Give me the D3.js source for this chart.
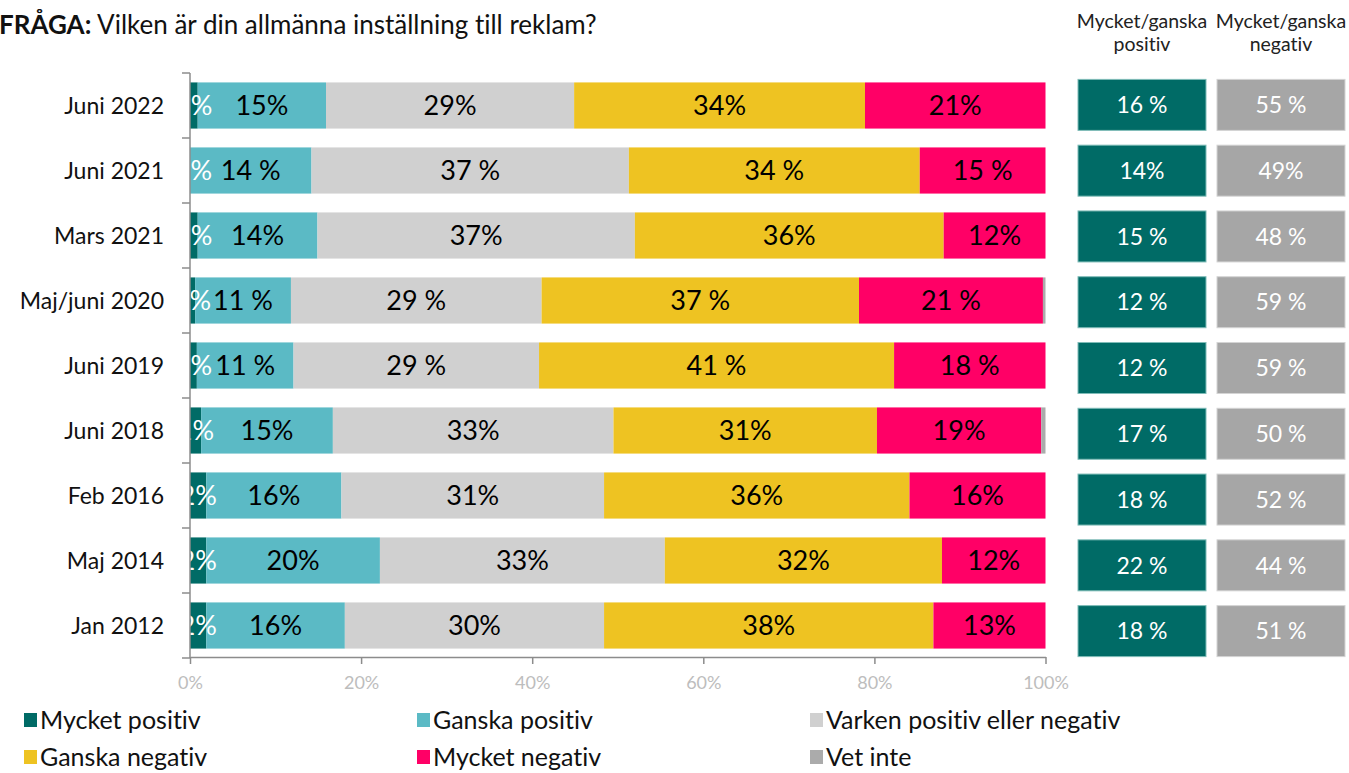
<!DOCTYPE html>
<html>
<head>
<meta charset="utf-8">
<script src="https://cdn.jsdelivr.net/npm/d3@7"></script>
<style>
    body { margin: 0; background: #fff; }
    svg { display: block; font-family: Lato, 'Open Sans', sans-serif; font-variant-ligatures: none; }
</style>
</head>
<body>
<svg id="chart" width="1349" height="773"></svg>
<script>
/**
 * Data.
 */
const periods = ['Juni 2022', 'Juni 2021', 'Mars 2021', 'Maj/juni 2020', 'Juni 2019',
    'Juni 2018', 'Feb 2016', 'Maj 2014', 'Jan 2012'];
const seriesNames = ['Mycket positiv', 'Ganska positiv', 'Varken positiv eller negativ',
    'Ganska negativ', 'Mycket negativ', 'Vet inte'];
const seriesColors = ['#006b66', '#5bbac5', '#d0d0d0', '#eec322', '#ff0066', '#ababab'];

// Shares (%) per period, one array per answer
const mycketPositiv = [0.9, 0, 0.9, 0.6, 0.8, 1.3, 1.9, 1.9, 1.9];
const ganskaPositiv = [15.0, 14.2, 14.0, 11.2, 11.3, 15.4, 15.8, 20.3, 16.2];
const varken = [29.0, 37.1, 37.1, 29.3, 28.7, 32.8, 30.7, 33.3, 30.3];
const ganskaNegativ = [34.0, 34.0, 36.1, 37.1, 41.5, 30.8, 35.7, 32.4, 38.5];
const mycketNegativ = [21.1, 14.7, 11.9, 21.5, 17.7, 19.2, 15.9, 12.1, 13.1];
const vetInte = [0, 0, 0, 0.3, 0, 0.5, 0, 0, 0];

// Labels as printed in the bars (no label for "Vet inte")
const mycketPositivLabels = ['1%', '0 %', '1%', '1%', '1%', '1%', '2%', '2%', '2%'];
const ganskaPositivLabels = ['15%', '14 %', '14%', '11 %', '11 %', '15%', '16%', '20%', '16%'];
const varkenLabels = ['29%', '37 %', '37%', '29 %', '29 %', '33%', '31%', '33%', '30%'];
const ganskaNegativLabels = ['34%', '34 %', '36%', '37 %', '41 %', '31%', '36%', '32%', '38%'];
const mycketNegativLabels = ['21%', '15 %', '12%', '21 %', '18 %', '19%', '16%', '12%', '13%'];

// Summary boxes
const summaryPositive = ['16 %', '14%', '15 %', '12 %', '12 %', '17 %', '18 %', '22 %', '18 %'];
const summaryNegative = ['55 %', '49%', '48 %', '59 %', '59 %', '50 %', '52 %', '44 %', '51 %'];

const xTicks = [0, 20, 40, 60, 80, 100];

/**
 * Visual configs.
 */
const plot = { left: 190, right: 1045.5, top: 73, bottom: 658 },
    boxCols = [{ x: 1078, fill: '#006b66', stroke: '#7fbcb8', label: 'positiv' },
        { x: 1217, fill: '#a6a6a6', stroke: '#d4d4d4', label: 'negativ' }],
    boxWidth = 128,
    boxHeight = 51,
    axisColor = '#8c8c8c';

const svg = d3.select('#chart');

const values = [mycketPositiv, ganskaPositiv, varken, ganskaNegativ, mycketNegativ, vetInte];
const labels = [mycketPositivLabels, ganskaPositivLabels, varkenLabels, ganskaNegativLabels, mycketNegativLabels, null];

const rows = periods.map((p, i) => {
    let acc = 0;
    const segs = values.map((v, k) => {
        const s = { period: p, key: k, x0: acc, x1: acc + v[i], label: labels[k] ? labels[k][i] : null };
        acc += v[i];
        return s;
    });
    return { period: p, segs: segs };
});

/**
 * D3.
 */
const xScale = d3.scaleLinear().domain([0, 100]).range([plot.left, plot.right]);
const yScale = d3.scaleBand().domain(periods).range([plot.top, plot.bottom])
    .paddingInner(0.29).paddingOuter(0.145);
const boxScale = d3.scaleBand().domain(periods).range([72, 664]);

// Title
const title = svg.append('text').attr('x', -1).attr('y', 34)
    .attr('font-size', 26).attr('fill', '#111');
title.append('tspan').attr('font-weight', 'bold').text('FRÅGA:');
title.append('tspan').text(' Vilken är din allmänna inställning till reklam?');

// Bars
const rowG = svg.append('g').attr('class', 'bars')
    .selectAll('g').data(rows).join('g')
    .attr('transform', d => 'translate(0,' + yScale(d.period) + ')');

rowG.selectAll('rect').data(d => d.segs).join('rect')
    .attr('x', d => xScale(d.x0))
    .attr('width', d => Math.max(0, xScale(d.x1) - xScale(d.x0)))
    .attr('height', yScale.bandwidth())
    .attr('fill', d => seriesColors[d.key]);

rowG.selectAll('text').data(d => d.segs.filter(s => s.label)).join('text')
    .attr('x', d => xScale((d.x0 + d.x1) / 2))
    .attr('y', yScale.bandwidth() / 2)
    .attr('dy', '0.36em')
    .attr('text-anchor', 'middle')
    .attr('font-size', 27)
    .attr('fill', d => d.key === 0 ? '#fff' : '#000')
    .text(d => d.label);

// Y axis
const yAxisG = svg.append('g').attr('class', 'axis y');
yAxisG.append('line').attr('x1', plot.left).attr('x2', plot.left)
    .attr('y1', plot.top).attr('y2', plot.bottom).attr('stroke', axisColor).attr('stroke-width', 1.5);
yAxisG.selectAll('line.tick').data(d3.range(periods.length + 1)).join('line')
    .attr('class', 'tick')
    .attr('x1', plot.left - 8).attr('x2', plot.left)
    .attr('y1', i => plot.top + i * yScale.step()).attr('y2', i => plot.top + i * yScale.step())
    .attr('stroke', axisColor).attr('stroke-width', 1.5);
yAxisG.selectAll('text').data(periods).join('text')
    .attr('x', 164).attr('y', d => yScale(d) + yScale.bandwidth() / 2)
    .attr('dy', '0.36em').attr('text-anchor', 'end')
    .attr('font-size', 23).attr('fill', '#111')
    .text(d => d);

// X axis
const xAxisG = svg.append('g').attr('class', 'axis x')
    .attr('transform', 'translate(0,' + (plot.bottom - 1) + ')');
xAxisG.call(d3.axisBottom(xScale).tickValues(xTicks).tickSize(7).tickSizeOuter(0).tickFormat(d => d + '%'));
xAxisG.select('.domain').attr('stroke', axisColor).attr('stroke-width', 1.5);
xAxisG.selectAll('.tick line').attr('stroke', axisColor).attr('stroke-width', 1.5);
xAxisG.selectAll('.tick text').attr('fill', '#bdbdbd').attr('font-size', 18)
    .attr('font-family', 'Lato, sans-serif').attr('dy', '1.2em');

// Summary columns
boxCols.forEach((c, ci) => {
    const g = svg.append('g').attr('class', 'summary');
    const head = g.append('text').attr('text-anchor', 'middle').attr('font-size', 19.5).attr('fill', '#222');
    head.append('tspan').attr('x', c.x + boxWidth / 2).attr('y', 28).text('Mycket/ganska');
    head.append('tspan').attr('x', c.x + boxWidth / 2).attr('y', 51).text(c.label);

    const data = ci === 0 ? summaryPositive : summaryNegative;
    const cell = g.selectAll('g').data(periods).join('g')
        .attr('transform', d => 'translate(' + c.x + ',' +
            (boxScale(d) + (boxScale.bandwidth() - boxHeight) / 2) + ')');
    cell.append('rect').attr('width', boxWidth).attr('height', boxHeight)
        .attr('fill', c.fill).attr('stroke', c.stroke).attr('stroke-width', 1);
    cell.append('text').attr('x', boxWidth / 2).attr('y', boxHeight / 2).attr('dy', '0.36em')
        .attr('text-anchor', 'middle').attr('font-size', 23).attr('fill', '#fff')
        .text((d, i) => data[i]);
});

// Legend
const legend = svg.append('g').attr('class', 'legend')
    .selectAll('g').data(seriesNames).join('g')
    .attr('transform', (d, i) => 'translate(' + (24 + (i % 3) * 393) + ',' + (720 + Math.floor(i / 3) * 37) + ')');
legend.append('rect').attr('y', -7).attr('width', 13).attr('height', 14)
    .attr('fill', (d, i) => seriesColors[i]);
legend.append('text').attr('x', 16).attr('dy', '0.36em')
    .attr('font-size', 25).attr('fill', '#111').text(d => d);
</script>
</body>
</html>
